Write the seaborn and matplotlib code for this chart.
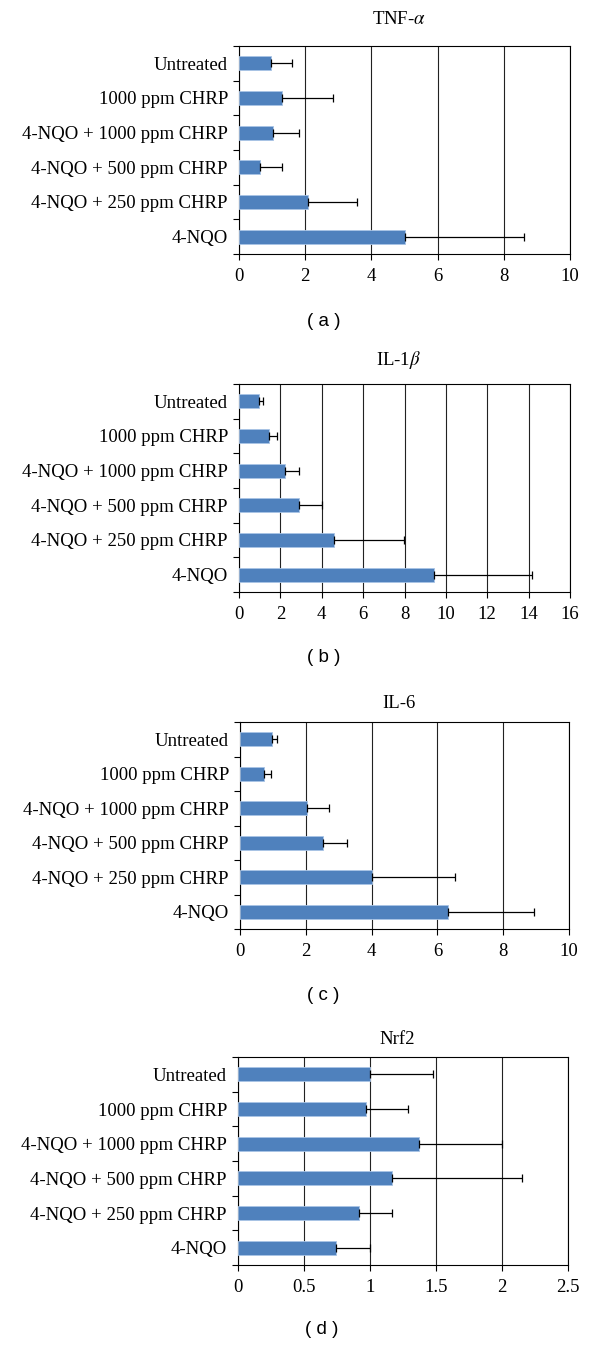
import numpy as np
import pandas as pd
import matplotlib.pyplot as plt
import seaborn as sns
from matplotlib.ticker import FixedLocator, MultipleLocator


GROUPS = [
    "Untreated",
    "1000 ppm CHRP",
    "4-NQO + 1000 ppm CHRP",
    "4-NQO + 500 ppm CHRP",
    "4-NQO + 250 ppm CHRP",
    "4-NQO",
]

TNF_MEAN = [0.98, 1.31, 1.02, 0.62, 2.08, 5.0]
TNF_UPPER = [1.60, 2.83, 1.80, 1.31, 3.57, 8.60]

IL1B_MEAN = [0.98, 1.43, 2.21, 2.90, 4.59, 9.41]
IL1B_UPPER = [1.14, 1.84, 2.92, 4.0, 7.97, 14.15]

IL6_MEAN = [0.97, 0.74, 2.04, 2.52, 4.01, 6.33]
IL6_UPPER = [1.12, 0.95, 2.72, 3.26, 6.53, 8.93]

NRF2_MEAN = [1.0, 0.97, 1.37, 1.17, 0.915, 0.745]
NRF2_UPPER = [1.48, 1.29, 2.0, 2.15, 1.17, 1.0]

TITLES = ["TNF-$\\alpha$", "IL-1$\\beta$", "IL-6", "Nrf2"]
CAPTIONS = ["( a )", "( b )", "( c )", "( d )"]
XMAX = [10, 16, 10, 2.5]
XSTEP = [2, 2, 2, 0.5]

# panel boxes in pixels: left, right, top, bottom; title y; caption y
BOXES = [
    (239, 570, 46, 254, 20, 322),
    (239, 570, 384, 592, 360, 658),
    (240, 569, 722, 929, 703, 995),
    (238, 568, 1057, 1265, 1040, 1330),
]

W, H = 600, 1346
BAR_COLOR = "#4F81BD"

sns.set_theme(style="white")
plt.rcParams["font.family"] = ["Liberation Serif", "DejaVu Serif"]
plt.rcParams["mathtext.fontset"] = "stix"
plt.rcParams["text.color"] = "black"
plt.rcParams["xtick.color"] = "black"
plt.rcParams["ytick.color"] = "black"


def draw_panel(fig, box, mean, upper, title, caption, xmax, xstep):
    left, right, top, bottom, ty, cy = box
    ax = fig.add_axes([left / W, 1 - bottom / H, (right - left) / W, (bottom - top) / H])
    df = pd.DataFrame({"group": GROUPS, "value": mean})
    sns.barplot(
        data=df,
        x="value",
        y="group",
        order=GROUPS,
        orient="h",
        color=BAR_COLOR,
        saturation=1,
        width=0.4,
        edgecolor="#A9C4E6",
        linewidth=0.6,
        errorbar=None,
        ax=ax,
        zorder=3,
    )
    ypos = np.arange(len(GROUPS))
    err = np.array(upper) - np.array(mean)
    ax.errorbar(
        mean,
        ypos,
        xerr=[np.zeros(len(err)), err],
        fmt="none",
        ecolor="black",
        elinewidth=0.9,
        capsize=2.6,
        capthick=0.9,
        zorder=4,
    )
    ax.set_xlim(0, xmax)
    ax.set_ylim(len(GROUPS) - 0.5, -0.5)
    ax.xaxis.set_major_locator(MultipleLocator(xstep))
    ax.set_xticklabels([f"{v:g}" for v in ax.get_xticks()])
    ax.grid(True, axis="x", color="#222222", linewidth=0.8)
    ax.set_axisbelow(True)

    # category labels at bar centres, tick marks at the boundaries
    ax.yaxis.set_major_locator(FixedLocator(np.arange(-0.5, len(GROUPS), 1.0)))
    ax.yaxis.set_minor_locator(FixedLocator(ypos))
    ax.set_yticklabels([])
    ax.set_yticklabels(GROUPS, minor=True)
    ax.tick_params(axis="y", which="major", left=True, length=4, width=0.8, color="black")
    ax.tick_params(axis="y", which="minor", left=True, length=0, pad=8, labelsize=13.5)
    ax.tick_params(axis="x", bottom=True, length=4, width=0.8, color="black", pad=6, labelsize=13.5)

    for side in ["top", "right", "bottom", "left"]:
        ax.spines[side].set_visible(True)
        ax.spines[side].set_color("black")
        ax.spines[side].set_linewidth(0.8)
    ax.set_xlabel("")
    ax.set_ylabel("")

    cx = (left + right) / 2 / W
    fig.text(cx - 0.01, 1 - ty / H, title, ha="center", va="center", fontsize=13.5)
    fig.text(cx - 0.135, 1 - cy / H, caption, ha="center", va="center",
             fontsize=13.5, family=["Liberation Sans", "DejaVu Sans"])
    return ax


def main() -> None:
    fig = plt.figure(figsize=(W / 100, H / 100), dpi=100)
    panels = [
        (TNF_MEAN, TNF_UPPER),
        (IL1B_MEAN, IL1B_UPPER),
        (IL6_MEAN, IL6_UPPER),
        (NRF2_MEAN, NRF2_UPPER),
    ]
    for i, (mean, upper) in enumerate(panels):
        draw_panel(fig, BOXES[i], mean, upper, TITLES[i], CAPTIONS[i], XMAX[i], XSTEP[i])
    fig.savefig("out.png", dpi=100)
    plt.close(fig)


if __name__ == "__main__":
    main()
